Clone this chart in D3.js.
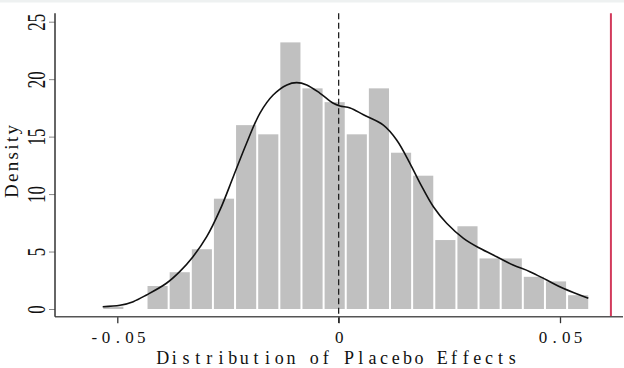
<!DOCTYPE html>
<html><head><meta charset="utf-8">
<script src="https://cdn.jsdelivr.net/npm/d3@7"></script>
<style>body{margin:0;background:#fff}svg{display:block}</style>
</head><body><svg id="c" width="624" height="368"></svg>
<script>
// ---- data ----
const binStart = -0.0534;
const binWidth = 0.005;
const binDensity = [0.2,0,2.0,3.2,5.2,9.6,16.0,15.2,23.2,19.2,18.0,15.2,19.2,13.6,11.6,6.0,7.2,4.4,4.4,2.8,2.4,1.2];
const kdeX = [-0.0533,-0.0494,-0.0464,-0.0434,-0.0389,-0.0359,-0.0329,-0.0298,-0.0268,-0.0238,-0.0208,-0.0178,-0.0148,-0.0117,-0.0095,-0.0072,-0.0042,-0.0012,0.0003,0.0026,0.0056,0.0101,0.0131,0.0161,0.0184,0.0214,0.0244,0.0282,0.0319,0.0357,0.0394,0.0432,0.0470,0.0507,0.0564];
const kdeY = [0.2,0.32,0.64,1.22,2.24,3.25,4.55,6.29,8.62,11.51,14.42,17.03,18.62,19.5,19.7,19.5,18.77,17.9,17.67,17.5,16.9,16.0,14.71,12.68,10.94,8.9,7.46,6.15,5.28,4.55,3.83,3.25,2.52,1.8,0.93];
const xTicks = [-0.05, 0, 0.05];
const xTickLabels = ["-0.05", "0", "0.05"];
const yTicks = [0, 5, 10, 15, 20, 25];
const zeroLine = 0;
const actualEffect = 0.0615;
const xTitle = "Distribution of Placebo Effects";
const yTitle = "Density";

// ---- layout ----
const pL = 55, pR = 623, pT = 13.3, pB = 316.7;
const svg = d3.select("#c");
svg.append("rect").attr("x",0).attr("y",0).attr("width",624).attr("height",2.5).attr("fill","#eef1f1");

const x = d3.scaleLinear().domain([-0.05, 0.05]).range([117.3, 560]);
const y = d3.scaleLinear().domain([0, 25]).range([309, 21.7]);

// bars
const bins = binDensity.map((d,i)=>({x0: binStart + i*binWidth, x1: binStart + (i+1)*binWidth, d}));
svg.append("g").selectAll("rect").data(bins.filter(b=>b.d>0)).join("rect")
  .attr("x", b=>x(b.x0)+1)
  .attr("width", b=>x(b.x1)-x(b.x0)-2)
  .attr("y", b=>y(b.d))
  .attr("height", b=>y(0)-y(b.d))
  .attr("fill", "#c0c0c0");

// kde
const line = d3.line().x((d,i)=>x(kdeX[i])).y(d=>y(d)).curve(d3.curveCatmullRom.alpha(0.5));
svg.append("path").attr("d", line(kdeY)).attr("fill","none").attr("stroke","#111").attr("stroke-width",1.6);

// reference lines
svg.append("line").attr("x1",x(zeroLine)).attr("x2",x(zeroLine)).attr("y1",pT).attr("y2",323)
  .attr("stroke","#222").attr("stroke-width",1.3).attr("stroke-dasharray","6,3.5");
svg.append("line").attr("x1",x(actualEffect)).attr("x2",x(actualEffect)).attr("y1",pT).attr("y2",pB)
  .attr("stroke","#d23a5c").attr("stroke-width",2);

// x axis
const xAxis = svg.append("g").attr("transform",`translate(0,${pB})`)
  .call(d3.axisBottom(x).tickValues(xTicks).tickFormat((d,i)=>xTickLabels[i]).tickSize(6.5).tickPadding(0));
xAxis.select(".domain").remove();
xAxis.selectAll(".tick line").attr("stroke","#333").attr("stroke-width",1.3);
const adv = 11.7;
xAxis.selectAll(".tick text")
  .attr("font-family","'Liberation Serif', serif").attr("font-size",17).attr("fill","#111")
  .attr("dy",null).attr("y",26.6).attr("text-anchor","middle")
  .attr("x", function(){ const n=this.textContent.length; return d3.range(n).map(i=>((i-(n-1)/2)*adv).toFixed(2)).join(" "); });
svg.append("line").attr("x1",pL).attr("x2",pR).attr("y1",pB).attr("y2",pB).attr("stroke","#555").attr("stroke-width",1.5);

// y axis
const yAxis = svg.append("g").attr("transform",`translate(${pL},0)`)
  .call(d3.axisLeft(y).tickValues(yTicks).tickSize(6).tickPadding(0));
yAxis.select(".domain").remove();
yAxis.selectAll(".tick line").attr("stroke","#888").attr("stroke-width",1);
yAxis.selectAll(".tick text")
  .attr("font-family","'Liberation Serif', serif").attr("font-size",17).attr("fill","#111")
  .attr("x",0).attr("dy",null).attr("y",0).attr("text-anchor","middle")
  .attr("transform","translate(-10,0) scale(1.45,1) rotate(-90)");
svg.append("line").attr("x1",pL).attr("x2",pL).attr("y1",pT).attr("y2",pB).attr("stroke","#333").attr("stroke-width",1.5);

// titles
const tAdv = 11.65;
svg.append("text").text(xTitle)
  .attr("font-family","'Liberation Serif', serif").attr("font-size",18).attr("fill","#111")
  .attr("text-anchor","middle").attr("y",363.5)
  .attr("x", d3.range(xTitle.length).map(i=>(156.9 + tAdv*(i+0.5)).toFixed(2)).join(" "));

svg.append("text").text(yTitle)
  .attr("font-family","'Liberation Serif', serif").attr("font-size",19).attr("fill","#111")
  .attr("text-anchor","middle")
  .attr("transform","translate(18,161.5) rotate(-90)")
  .attr("textLength",73).attr("lengthAdjust","spacing");
</script></body></html>
